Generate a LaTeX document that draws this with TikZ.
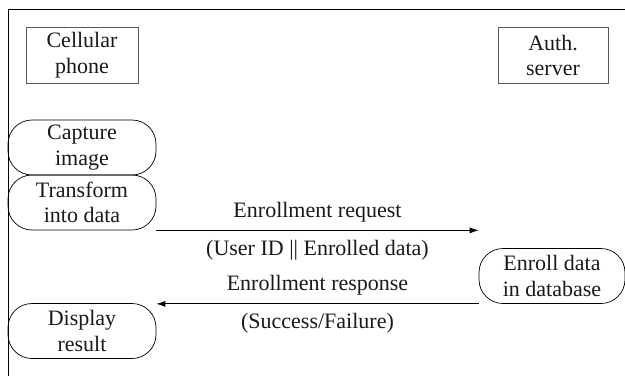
\documentclass[tikz,border=0pt]{standalone}
\usepackage{fontspec}
\setmainfont{Liberation Serif}
\usetikzlibrary{arrows.meta,positioning}
\definecolor{BoxClr}{rgb}{0.35,0.35,0.35}
\definecolor{TextClr}{rgb}{0.1,0.1,0.1}

\begin{document}
\begin{tikzpicture}[x=1pt,y=-1pt,
  every node/.style={text=TextClr,font=\fontsize{22}{25.5}\selectfont,align=center,inner sep=0pt},
  entity/.style={draw=BoxClr,line width=0.8pt,minimum width=112pt,minimum height=56pt},
  process/.style={draw=black,line width=0.7pt,rounded corners=24pt,minimum width=148pt,minimum height=55pt},
  msg/.style={line width=0.8pt,-{Latex[length=9pt,width=6pt]}}]
\useasboundingbox (0,0) rectangle (625,376);

% frame
\draw[line width=0.9pt] (625,9) -- (8,9) -- (8,376);

% parties
\node[entity] (Phone) at (82,55) {Cellular\\phone};
\node[entity,minimum width=110pt] (Server) at (553,55.5) {Auth.\\server};

% steps
\node[process] (Capture) at (82,147.5) {Capture\\image};
\node[process] (Transform) at (82,202.5) {Transform\\into data};
\node[process] (Display) at (82,331) {Display\\result};
\node[process,minimum width=146pt] (Enroll) at (552,276) {Enroll data\\in database};

% messages
\draw[msg] (Transform.south east) -- (Transform.south east -| Enroll.west)
  node[midway,above=8pt] {Enrollment request}
  node[midway,below=9pt] {(User ID || Enrolled data)};
\draw[msg] (Enroll.south west) -- (Enroll.south west -| Display.east)
  node[midway,above=8pt] {Enrollment response}
  node[midway,below=9pt] {(Success/Failure)};

\end{tikzpicture}
\end{document}
